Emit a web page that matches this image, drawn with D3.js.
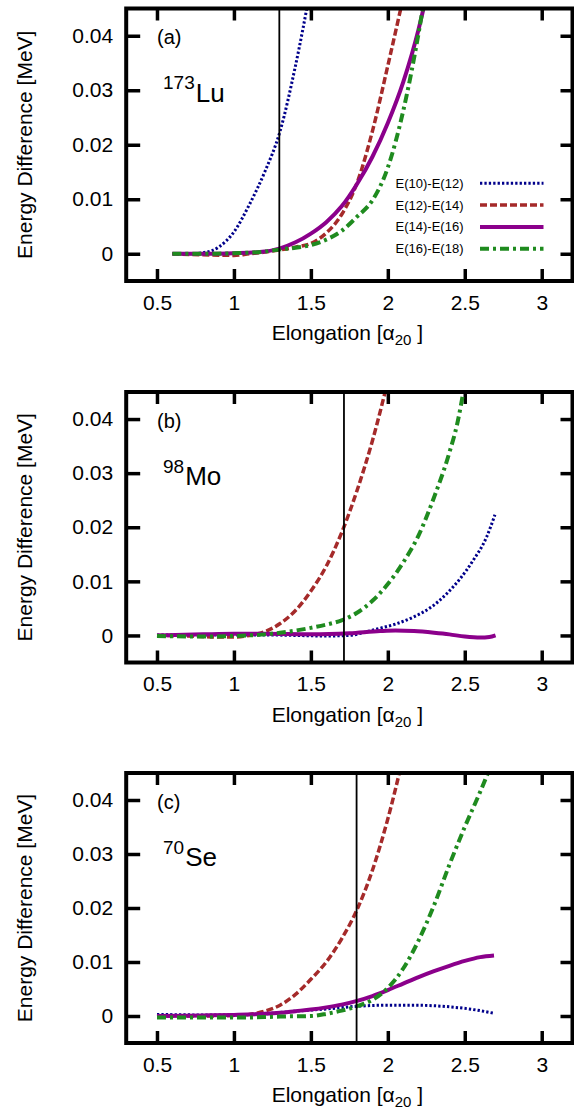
<!DOCTYPE html>
<html>
<head>
<meta charset="utf-8">
<script src="https://cdn.jsdelivr.net/npm/d3@7"></script>
<style>
  body { margin: 0; background: #fff; }
  svg { display: block; font-family: "Liberation Sans", Arial, Helvetica, sans-serif; }
</style>
</head>
<body>
<svg id="chart" width="574" height="1109"></svg>
<script>
// tick values and labels
var xTicks = [0.5, 1, 1.5, 2, 2.5, 3];
var yTicks = [0, 0.01, 0.02, 0.03, 0.04];
var seriesNames = ['E(10)-E(12)', 'E(12)-E(14)', 'E(14)-E(16)', 'E(16)-E(18)'];
var panelTags = ['(a)', '(b)', '(c)'];
var massNumbers = ['173', '98', '70'];
var elements = ['Lu', 'Mo', 'Se'];
var markerX = [1.295, 1.715, 1.797];

// 173Lu  [elongation, energy difference]
var lu10_12 = [[0.6,0],[0.7,0],[0.8,0.0002],[0.9,0.0012],[1.0,0.004],[1.1,0.009],[1.2,0.015],[1.3,0.0225],[1.4,0.0345],[1.5,0.049]];
var lu12_14 = [[0.6,0],[0.8,-0.0002],[1.0,-0.0003],[1.1,0],[1.2,0.0003],[1.3,0.0007],[1.4,0.0012],[1.5,0.0019],[1.6,0.0038],[1.7,0.0072],[1.8,0.013],[1.9,0.0225],[2.0,0.0345],[2.1,0.047]];
var lu14_16 = [[0.6,0],[0.8,0],[1.0,0.0001],[1.2,0.0004],[1.3,0.001],[1.4,0.0021],[1.5,0.0037],[1.6,0.0058],[1.7,0.0087],[1.8,0.0128],[1.9,0.0178],[2.0,0.024],[2.1,0.0315],[2.2,0.0412],[2.24,0.046]];
var lu16_18 = [[0.6,0],[0.8,0],[1.0,0.0001],[1.2,0.0004],[1.3,0.0008],[1.4,0.0011],[1.5,0.0016],[1.6,0.0026],[1.7,0.0042],[1.8,0.0068],[1.9,0.0098],[2.0,0.0158],[2.1,0.0262],[2.2,0.0405],[2.25,0.049]];

// 98Mo
var mo10_12 = [[0.5,0.0001],[0.8,0.0001],[1.0,0.0001],[1.2,0.0001],[1.4,0],[1.6,-0.0001],[1.75,0],[1.85,0.0006],[1.93,0.0012],[2.05,0.0021],[2.166,0.0034],[2.28,0.0052],[2.382,0.0077],[2.47,0.0105],[2.555,0.0139],[2.642,0.0182],[2.696,0.0223]];
var mo12_14 = [[0.5,0],[0.7,-0.0001],[0.9,-0.0003],[1.0,-0.0003],[1.1,0],[1.2,0.0007],[1.3,0.0022],[1.4,0.0046],[1.5,0.0082],[1.6,0.0128],[1.7,0.019],[1.8,0.0268],[1.9,0.036],[2.0,0.047]];
var mo14_16 = [[0.5,0],[0.8,0.0002],[1.0,0.0003],[1.2,0.0003],[1.5,0.0002],[1.75,0.0004],[1.95,0.0008],[2.05,0.0009],[2.17,0.0008],[2.3,0.0005],[2.4,0.0002],[2.5,-0.0002],[2.6,-0.0004],[2.66,-0.0003],[2.7,0]];
var mo16_18 = [[0.5,-0.0001],[0.8,-0.0002],[1.0,-0.0001],[1.2,0.0002],[1.3,0.0005],[1.4,0.0009],[1.5,0.0014],[1.6,0.002],[1.7,0.0028],[1.8,0.0042],[1.9,0.0064],[2.0,0.0095],[2.1,0.0135],[2.2,0.0185],[2.3,0.0255],[2.4,0.0338],[2.45,0.039],[2.5,0.0465]];

// 70Se
var se10_12 = [[0.5,0.0003],[0.8,0.0002],[1.0,0.0002],[1.2,0.0004],[1.4,0.0009],[1.6,0.0013],[1.8,0.0018],[2.0,0.002],[2.166,0.002],[2.3,0.0019],[2.4,0.0017],[2.555,0.0012],[2.69,0.0005]];
var se12_14 = [[0.5,0],[0.8,0],[1.0,0.0001],[1.1,0.0003],[1.2,0.0009],[1.3,0.002],[1.4,0.004],[1.5,0.0068],[1.6,0.01],[1.7,0.0143],[1.8,0.0197],[1.9,0.027],[2.0,0.0365],[2.1,0.048]];
var se14_16 = [[0.5,0],[0.8,0.0001],[1.0,0.0002],[1.2,0.0004],[1.3,0.0006],[1.4,0.0009],[1.5,0.0012],[1.6,0.0016],[1.7,0.0021],[1.8,0.0028],[1.9,0.0037],[2.0,0.0048],[2.1,0.006],[2.2,0.0072],[2.3,0.0083],[2.4,0.0093],[2.5,0.0102],[2.6,0.0109],[2.69,0.0112]];
var se16_18 = [[0.5,-0.0003],[0.8,-0.0003],[1.0,-0.0003],[1.2,-0.0002],[1.3,-0.0001],[1.5,0],[1.6,0.0004],[1.7,0.001],[1.8,0.0018],[1.9,0.003],[2.0,0.0052],[2.1,0.0088],[2.2,0.014],[2.3,0.0205],[2.4,0.028],[2.5,0.035],[2.6,0.0415],[2.7,0.0485]];

var panelData = [
  [lu10_12, lu12_14, lu14_16, lu16_18],
  [mo10_12, mo12_14, mo14_16, mo16_18],
  [se10_12, se12_14, se14_16, se16_18]
];

// line styles per series
var styles = [
  { colour: '#00008b', width: 3, dash: '2.3,2.1' },
  { colour: '#a52a2a', width: 3.5, dash: '7,3' },
  { colour: '#8b008b', width: 4, dash: null },
  { colour: '#1f8b1f', width: 4, dash: '9,4,3,4' }
];

var svg = d3.select('#chart');
var left = 126.2, right = 572.5;
var tops = [8.5, 392, 773];
var bottoms = [281, 662.5, 1043];

var x = d3.scaleLinear().domain([0.3, 3.2]).range([left, right]);

panelData.forEach(function(series, i) {
  var top = tops[i], bottom = bottoms[i];
  var y = d3.scaleLinear().domain([-0.005, 0.045]).range([bottom, top]);
  var g = svg.append('g');

  // clip to the frame
  g.append('clipPath').attr('id', 'clip' + i)
    .append('rect')
    .attr('x', left).attr('y', top)
    .attr('width', right - left).attr('height', bottom - top);

  // axes, ticks pointing inward
  var bottomAxis = d3.axisBottom(x).tickValues(xTicks).tickSizeInner(-12).tickSizeOuter(0).tickPadding(14)
    .tickFormat(function(d) { return d; });
  var topAxis = d3.axisTop(x).tickValues(xTicks).tickSizeInner(-12).tickSizeOuter(0).tickFormat('');
  var leftAxis = d3.axisLeft(y).tickValues(yTicks).tickSizeInner(-14).tickSizeOuter(0).tickPadding(13)
    .tickFormat(function(d) { return d === 0 ? '0' : d3.format('.2f')(d); });
  var rightAxis = d3.axisRight(y).tickValues(yTicks).tickSizeInner(-12).tickSizeOuter(0).tickFormat('');

  var axes = [
    g.append('g').attr('transform', 'translate(0,' + bottom + ')').call(bottomAxis),
    g.append('g').attr('transform', 'translate(0,' + top + ')').call(topAxis),
    g.append('g').attr('transform', 'translate(' + left + ',0)').call(leftAxis),
    g.append('g').attr('transform', 'translate(' + right + ',0)').call(rightAxis)
  ];
  axes.forEach(function(a) {
    a.select('.domain').remove();
    a.selectAll('line').attr('stroke', '#000').attr('stroke-width', 3.5);
    a.selectAll('text').attr('fill', '#000').attr('font-size', '21px')
      .attr('font-family', '"Liberation Sans", Arial, Helvetica, sans-serif');
  });

  // curves
  var line = d3.line()
    .x(function(d) { return x(d[0]); })
    .y(function(d) { return y(d[1]); })
    .curve(d3.curveMonotoneX);

  var plot = g.append('g').attr('clip-path', 'url(#clip' + i + ')');
  series.forEach(function(pts, k) {
    plot.append('path')
      .datum(pts)
      .attr('fill', 'none')
      .attr('stroke', styles[k].colour)
      .attr('stroke-width', styles[k].width)
      .attr('stroke-dasharray', styles[k].dash)
      .attr('d', line);
  });

  // vertical marker
  g.append('line')
    .attr('x1', x(markerX[i])).attr('x2', x(markerX[i]))
    .attr('y1', top).attr('y2', bottom)
    .attr('stroke', '#000').attr('stroke-width', 1.8);

  // frame
  g.append('rect')
    .attr('x', left).attr('y', top)
    .attr('width', right - left).attr('height', bottom - top)
    .attr('fill', 'none').attr('stroke', '#000').attr('stroke-width', 4);

  // panel tag and nucleus
  g.append('text').attr('x', 157).attr('y', top + 35.5)
    .attr('font-size', '20px').text(panelTags[i]);

  var sup = g.append('text').attr('x', 163).attr('y', top + 80.5)
    .attr('font-size', '19px').text(massNumbers[i]);
  g.append('text')
    .attr('x', 163 + sup.node().getComputedTextLength() + 1)
    .attr('y', top + 93.2)
    .attr('font-size', '26px').text(elements[i]);

  // axis titles
  var xt = g.append('text')
    .attr('x', (left + right) / 2 - 2).attr('y', bottom + 59)
    .attr('text-anchor', 'middle').attr('font-size', '21px');
  xt.append('tspan').text('Elongation [\u03b1');
  xt.append('tspan').attr('font-size', '15px').attr('dy', 5).text('20');
  xt.append('tspan').attr('dy', -5).text(' ]');

  g.append('text')
    .attr('transform', 'translate(24,' + (top + bottom) / 2 + ') rotate(-90)')
    .attr('text-anchor', 'middle').attr('dominant-baseline', 'central')
    .attr('font-size', '21px').text('Energy Difference [MeV]');

  // legend only in the first panel
  if (i === 0) {
    var lg = g.append('g');
    seriesNames.forEach(function(name, k) {
      var ly = 183.3 + k * 21.8;
      lg.append('text').attr('x', 463.5).attr('y', ly)
        .attr('text-anchor', 'end').attr('dominant-baseline', 'central')
        .attr('font-size', '13px').text(name);
      lg.append('line')
        .attr('x1', 480).attr('x2', 543.5).attr('y1', ly).attr('y2', ly)
        .attr('stroke', styles[k].colour)
        .attr('stroke-width', styles[k].width)
        .attr('stroke-dasharray', styles[k].dash);
    });
  }
});
</script>
</body>
</html>
